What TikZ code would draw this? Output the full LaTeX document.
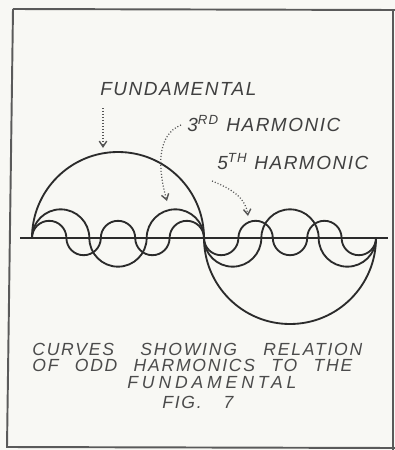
\documentclass[tikz,border=0pt]{standalone}
\usepackage{fontspec}
\usetikzlibrary{arrows.meta}
\newfontfamily\hand{Liberation Sans Italic}
\newcommand\ls[1]{\addfontfeature{LetterSpace=#1}}
\definecolor{ink}{HTML}{2B2B2B}
\definecolor{paper}{HTML}{F8F8F4}
\definecolor{framec}{HTML}{5A5A5A}
\begin{document}
\begin{tikzpicture}[x=0.02cm,y=-0.02cm,
  curve/.style={draw=ink,line width=1.05pt},
  axisline/.style={draw=ink,line width=0.9pt},
  leader/.style={draw=ink!80,line width=0.7pt,dash pattern=on 0.6pt off 1.1pt,
     -{Straight Barb[length=3.2pt,width=4.2pt,line width=0.8pt]}},
  lbl/.style={anchor=west,inner sep=0pt,text=ink!90,font=\hand\fontsize{10.8}{12}\selectfont\ls{8}},
  captxt/.style={anchor=west,inner sep=0pt,text=ink!85,font=\hand\fontsize{10}{11}\selectfont\ls{10}}]
\useasboundingbox (0,0) rectangle (395,450);
\fill[paper] (0,0) rectangle (395,450);
% frame
\draw[framec,line width=1.1pt] (13,9) -- (395,10);
\draw[framec,line width=1.1pt] (13,9) -- (7,447) -- (395,448);
\draw[framec,line width=1.1pt] (393,10) -- (393,450);
% axis
\draw[axisline] (20,238) -- (388,238);
% fundamental
\draw[curve] (32,238) arc[start angle=180,end angle=360,radius=86]
                      arc[start angle=180,end angle=0,radius=86];
% 3rd harmonic
\draw[curve] (32,238) arc[start angle=180,end angle=360,radius=28.667]
  arc[start angle=180,end angle=0,radius=28.667]
  arc[start angle=180,end angle=360,radius=28.667]
  arc[start angle=180,end angle=0,radius=28.667]
  arc[start angle=180,end angle=360,radius=28.667]
  arc[start angle=180,end angle=0,radius=28.667];
% 5th harmonic
\draw[curve] (32,238) arc[start angle=180,end angle=360,radius=17.2]
  arc[start angle=180,end angle=0,radius=17.2]
  arc[start angle=180,end angle=360,radius=17.2]
  arc[start angle=180,end angle=0,radius=17.2]
  arc[start angle=180,end angle=360,radius=17.2]
  arc[start angle=180,end angle=0,radius=17.2]
  arc[start angle=180,end angle=360,radius=17.2]
  arc[start angle=180,end angle=0,radius=17.2]
  arc[start angle=180,end angle=360,radius=17.2]
  arc[start angle=180,end angle=0,radius=17.2];
% labels
\node[lbl] (fund) at (100,89) {FUNDAMENTAL};
\node[lbl] (h3) at (187,124) {\makebox[3.06cm][s]{3\textsuperscript{RD} HARMONIC}};
\node[lbl] (h5) at (217,162) {\makebox[3.02cm][s]{5\textsuperscript{TH} HARMONIC}};
% leaders
\coordinate (fs) at (103,108);
\coordinate (ft) at (103,148);
\coordinate (h3s) at (181,125);
\coordinate (h3t) at (167,201);
\coordinate (h5s) at (212,181);
\coordinate (h5t) at (248,216);
\draw[leader] (fs) -- (ft);
\draw[leader] (h3s) .. controls (156,135) and (158,170) .. (h3t);
\draw[leader] (h5s) .. controls (235,190) and (246,200) .. (h5t);
% caption
\node[captxt] (c1) at (32,349) {\makebox[6.6cm][s]{CURVES SHOWING RELATION}};
\node[captxt] (c2) at (32,365) {\makebox[6.4cm][s]{OF ODD HARMONICS TO THE}};
\node[captxt] (c3) at (127,383) {\ls{22}FUNDAMENTAL};
\node[captxt] (c4) at (162,402) {\makebox[1.42cm][s]{FIG. 7}};
\end{tikzpicture}
\end{document}
